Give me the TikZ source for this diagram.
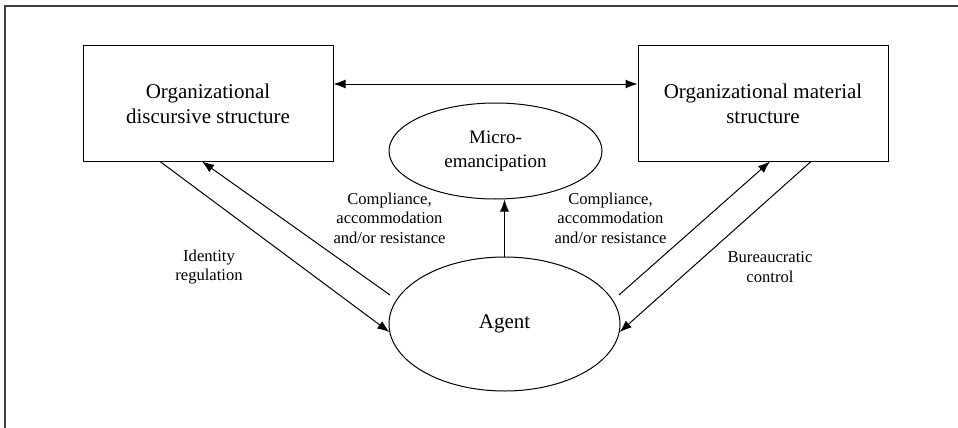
\documentclass[tikz,border=0pt]{standalone}
\usepackage{fontspec}
\setmainfont{Liberation Serif}
\usetikzlibrary{arrows.meta,shapes.geometric,calc}
\tikzset{
  boxnode/.style={draw, line width=1pt, rectangle, minimum width=250pt, minimum height=115pt, inner sep=0pt, align=center, font=\fontsize{21}{25}\selectfont},
  ellnode/.style={draw, line width=1pt, ellipse, inner sep=0pt, align=center},
  lab/.style={align=center, inner sep=0pt, font=\fontsize{16.6}{19.5}\selectfont},
  conn/.style={line width=1pt, -{Latex[length=12pt,width=9pt]}},
  frame/.style={line width=1.6pt, draw=black!75}
}
\begin{document}
\begin{tikzpicture}[x=1pt,y=-1pt]
\useasboundingbox (0,0) rectangle (958,428);
\coordinate (fa) at (5,428);
\coordinate (fb) at (5,6);
\coordinate (fc) at (958,6);
\draw[frame] (fa) -- (fb) -- (fc);

\node[boxnode] (lbox) at (208,103.5) {Organizational\\discursive structure};
\node[boxnode] (rbox) at (763,103.5) {Organizational material\\structure};
\node[ellnode, minimum width=213pt, minimum height=96pt, font=\fontsize{19}{24}\selectfont] (micro) at (495.5,151) {Micro-\\emancipation};
\node[ellnode, minimum width=231pt, minimum height=134pt, font=\fontsize{21}{25}\selectfont] (agent) at (504.5,324) {Agent};

% double arrow between boxes
\draw[line width=1pt, {Latex[length=12pt,width=9pt]}-{Latex[length=12pt,width=9pt]}]
  ($(lbox.east)+(0,-19.5)$) -- ($(rbox.west)+(0,-19.5)$);

% left pair
\draw[conn] ($(lbox.south)+(-48,0)$) -- (agent.184);
\draw[conn] ($(agent.center)+(-114.5,-29)$) -- ($(lbox.south)+(-6,0)$);
% right pair
\draw[conn] ($(agent.center)+(114.5,-29)$) -- ($(rbox.south)+(7,0)$);
\draw[conn] ($(rbox.south)+(48,0)$) -- (agent.-4);
% vertical
\draw[conn] (agent.north) -- (agent.north |- micro.south);

\node[lab] (cl) at (389.5,218) {Compliance,\\accommodation\\and/or resistance};
\node[lab] (cr) at (610.5,218) {Compliance,\\accommodation\\and/or resistance};
\node[lab] (idr) at (209,267) {Identity\\regulation};
\node[lab] (bc) at (770,267) {Bureaucratic\\control};
\end{tikzpicture}
\end{document}
